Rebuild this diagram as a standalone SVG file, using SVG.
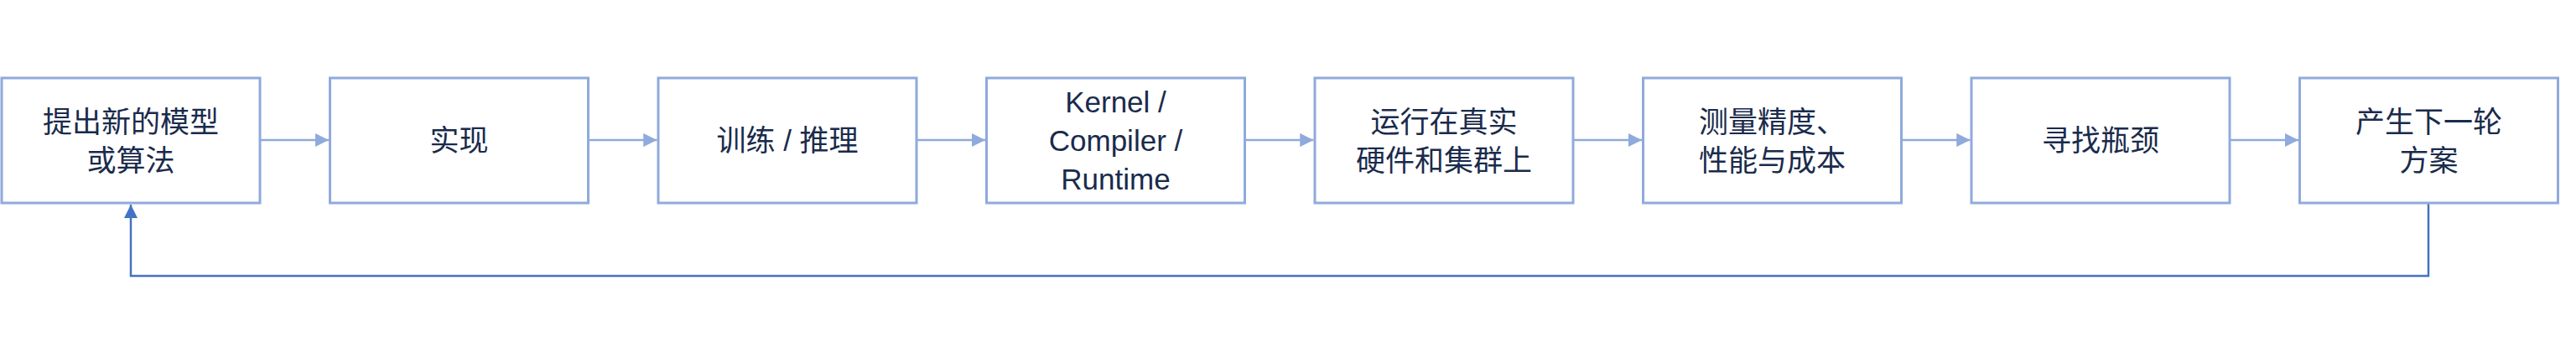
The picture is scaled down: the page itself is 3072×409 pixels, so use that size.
<svg xmlns="http://www.w3.org/2000/svg" width="3072" height="409" viewBox="0 0 3072 409">
<style>
.b{fill:#fff;stroke:#8FAADC;stroke-width:3}
.t{font-family:"Liberation Sans","Noto Sans CJK SC",sans-serif;font-size:35px;fill:#1A2B4C;text-anchor:middle}
.c{fill:none;stroke:#8FAADC;stroke-width:2.5}
</style>
<defs>
<marker id="a" viewBox="0 0 10 10" refX="10" refY="5" markerWidth="6.5" markerHeight="6.5" markerUnits="strokeWidth" orient="auto"><path d="M0,0L10,5L0,10z" fill="#8FAADC"/></marker>
<marker id="d" viewBox="0 0 10 10" refX="10" refY="5" markerWidth="6.5" markerHeight="6.5" markerUnits="strokeWidth" orient="auto"><path d="M0,0L10,5L0,10z" fill="#4472C4"/></marker>
</defs>
<g id="connectors">
<path class="c" d="M310,167H392" marker-end="url(#a)"/>
<path class="c" d="M701.5,167H783.5" marker-end="url(#a)"/>
<path class="c" d="M1093,167H1175" marker-end="url(#a)"/>
<path class="c" d="M1484.5,167H1566.5" marker-end="url(#a)"/>
<path class="c" d="M1876,167H1958" marker-end="url(#a)"/>
<path class="c" d="M2267.5,167H2349.5" marker-end="url(#a)"/>
<path class="c" d="M2659,167H2741" marker-end="url(#a)"/>
<path fill="none" stroke="#4472C4" stroke-width="2.5" d="M2896,242V329H156V244" marker-end="url(#d)"/>
</g>
<g id="n1"><rect class="b" x="2" y="93" width="308" height="149"/><text class="t" x="156" y="158">提出新的模型</text><text class="t" x="156" y="204">或算法</text></g>
<g id="n2"><rect class="b" x="393.5" y="93" width="308" height="149"/><text class="t" x="547.5" y="180">实现</text></g>
<g id="n3"><rect class="b" x="785" y="93" width="308" height="149"/><text class="t" x="939" y="180">训练 / 推理</text></g>
<g id="n4"><rect class="b" x="1176.5" y="93" width="308" height="149"/><text class="t" x="1330.5" y="134">Kernel /</text><text class="t" x="1330.5" y="180">Compiler /</text><text class="t" x="1330.5" y="226">Runtime</text></g>
<g id="n5"><rect class="b" x="1568" y="93" width="308" height="149"/><text class="t" x="1722" y="158">运行在真实</text><text class="t" x="1722" y="204">硬件和集群上</text></g>
<g id="n6"><rect class="b" x="1959.5" y="93" width="308" height="149"/><text class="t" x="2113.5" y="158">测量精度、</text><text class="t" x="2113.5" y="204">性能与成本</text></g>
<g id="n7"><rect class="b" x="2351" y="93" width="308" height="149"/><text class="t" x="2505" y="180">寻找瓶颈</text></g>
<g id="n8"><rect class="b" x="2742.5" y="93" width="308" height="149"/><text class="t" x="2896.5" y="158">产生下一轮</text><text class="t" x="2896.5" y="204">方案</text></g>
</svg>
